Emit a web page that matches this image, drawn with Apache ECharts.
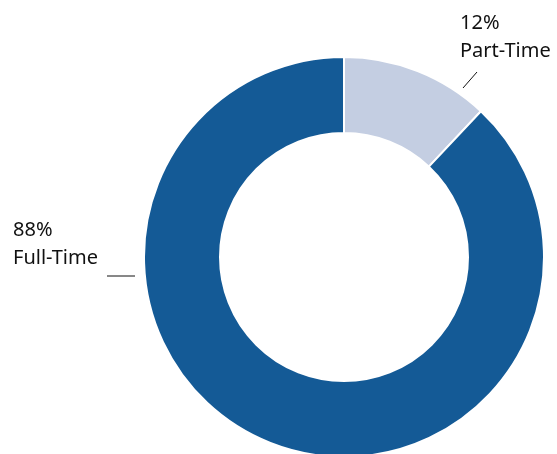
<!DOCTYPE html>
<html>
<head>
<meta charset="utf-8">
<script src="https://cdn.jsdelivr.net/npm/echarts@6/dist/echarts.min.js"></script>
<style>
  html, body { margin: 0; padding: 0; background: #fff; }
  #chart { width: 557px; height: 454px; }
</style>
</head>
<body>
<div id="chart"></div>
<script>
// Share of staff by employment type (percent)
const categories = ["Part-Time", "Full-Time"];
const shares = [12, 88];
const colors = ["#C4CEE2", "#145A96"];

// where each label block sits, and its short leader stroke
const labelSpots = [
  { x: 460, y: 9, line: [[463, 88], [477, 72]] },
  { x: 13, y: 216, line: [[107, 276], [135, 276]] },
];

const chart = echarts.init(document.getElementById("chart"), null, { renderer: "canvas" });

chart.setOption({
  animation: false,
  series: [{
    type: "pie",
    center: [344, 257],
    radius: [124, 200],
    startAngle: 90,
    clockwise: true,
    avoidLabelOverlap: false,
    itemStyle: { borderColor: "#fff", borderWidth: 2 },
    label: {
      show: true,
      position: "outside",
      formatter: (p) => `${p.value}%\n${p.name}`,
      color: "#111",
      fontFamily: "Noto Sans",
      fontSize: 20,
      lineHeight: 28,
      align: "left",
    },
    labelLine: { show: true, lineStyle: { color: "#111", width: 1 } },
    labelLayout: (params) => {
      const s = labelSpots[params.dataIndex];
      return { x: s.x, y: s.y, align: "left", verticalAlign: "top", labelLinePoints: s.line };
    },
    emphasis: { disabled: true },
    data: categories.map((name, i) => ({
      name,
      value: shares[i],
      itemStyle: { color: colors[i] },
    })),
  }],
});
</script>
</body>
</html>
